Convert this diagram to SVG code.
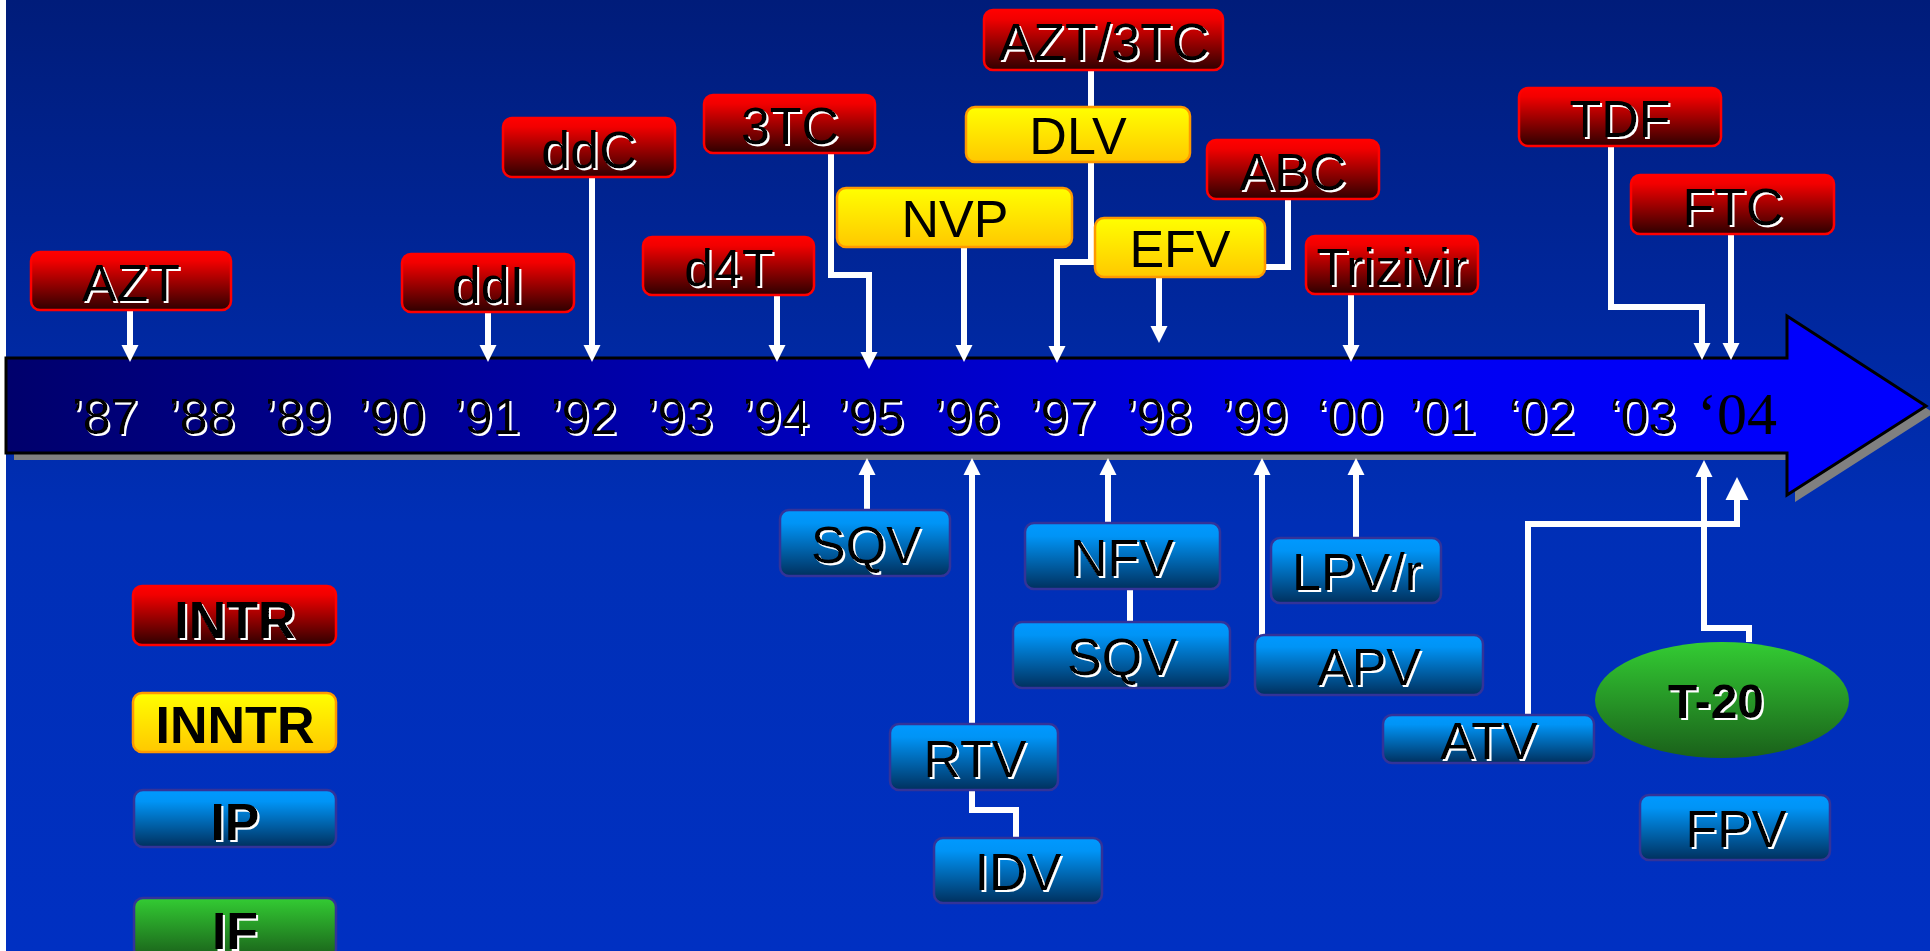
<svg xmlns="http://www.w3.org/2000/svg" width="1930" height="951" viewBox="0 0 1930 951">
<defs>
<linearGradient id="bg" x1="0" y1="0" x2="0" y2="1">
<stop offset="0" stop-color="#001c7a"/><stop offset="0.55" stop-color="#002fb6"/><stop offset="1" stop-color="#0030c2"/>
</linearGradient>
<linearGradient id="bar" gradientUnits="userSpaceOnUse" x1="6" y1="0" x2="1926" y2="0">
<stop offset="0" stop-color="#00006c"/><stop offset="0.7" stop-color="#0000f0"/><stop offset="1" stop-color="#0000ff"/>
</linearGradient>
<linearGradient id="gRed" x1="0" y1="0" x2="0" y2="1">
<stop offset="0" stop-color="#ff0000"/><stop offset="0.15" stop-color="#f20000"/><stop offset="1" stop-color="#2e0000"/>
</linearGradient>
<linearGradient id="gYel" x1="0" y1="0" x2="0" y2="1">
<stop offset="0" stop-color="#ffff00"/><stop offset="1" stop-color="#ffc800"/>
</linearGradient>
<linearGradient id="gBlue" x1="0" y1="0" x2="0" y2="1">
<stop offset="0" stop-color="#0099ff"/><stop offset="0.2" stop-color="#0094f6"/><stop offset="1" stop-color="#00305e"/>
</linearGradient>
<linearGradient id="gGreen" x1="0" y1="0" x2="0" y2="1">
<stop offset="0" stop-color="#33cc33"/><stop offset="1" stop-color="#1a601a"/>
</linearGradient>
<filter id="ws" x="-10%" y="-10%" width="125%" height="130%">
<feOffset in="SourceAlpha" dx="2" dy="2" result="o"/>
<feFlood flood-color="#ffffff"/>
<feComposite in2="o" operator="in" result="s"/>
<feMerge><feMergeNode in="s"/><feMergeNode in="SourceGraphic"/></feMerge>
</filter>
<marker id="ah" markerUnits="userSpaceOnUse" markerWidth="17" markerHeight="17" refX="5" refY="8.5" orient="auto" overflow="visible">
<path d="M0,0 L17,8.5 L0,17 z" fill="#ffffff"/>
</marker>
<marker id="ahL" markerUnits="userSpaceOnUse" markerWidth="23" markerHeight="23" refX="7" refY="11.5" orient="auto" overflow="visible">
<path d="M0,0 L23,11.5 L0,23 z" fill="#ffffff"/>
</marker>
</defs>
<style>
.red{fill:url(#gRed);stroke:#ff0000;stroke-width:2.5}
.yel{fill:url(#gYel);stroke:#ff9900;stroke-width:2.5}
.blu{fill:url(#gBlue);stroke:#333399;stroke-width:2.5}
.grn{fill:url(#gGreen);stroke:#333399;stroke-width:2.5}
.t{font-family:"Liberation Sans",Arial,sans-serif;font-size:52px;fill:#000;text-anchor:middle}
.sh{filter:url(#ws)}
.b{font-weight:bold}
.yr{font-family:"Liberation Sans",Arial,sans-serif;font-size:50px;fill:#000;text-anchor:middle;filter:url(#ws)}
.c{fill:none;stroke:#ffffff;stroke-width:6;stroke-linejoin:miter}
.ar{marker-end:url(#ah)}
.arL{marker-end:url(#ahL)}
</style>

<rect x="0" y="0" width="1930" height="951" fill="url(#bg)"/>
<rect x="0" y="0" width="6" height="951" fill="#ffffff"/>

<g id="timeline">
<path d="M6,358 H1787 V316 L1926,406 L1787,495 V453 H6 Z" fill="#808080" transform="translate(8,7)"/>
<path d="M6,358 H1787 V316 L1926,406 L1787,495 V453 H6 Z" fill="url(#bar)" stroke="#000000" stroke-width="3"/>
<text class="yr" x="105" y="434">’87</text>
<text class="yr" x="202" y="434">’88</text>
<text class="yr" x="298" y="434">’89</text>
<text class="yr" x="392" y="434">’90</text>
<text class="yr" x="487" y="434">’91</text>
<text class="yr" x="584" y="434">’92</text>
<text class="yr" x="680" y="434">’93</text>
<text class="yr" x="776" y="434">’94</text>
<text class="yr" x="871" y="434">’95</text>
<text class="yr" x="967" y="434">’96</text>
<text class="yr" x="1063" y="434">’97</text>
<text class="yr" x="1159" y="434">’98</text>
<text class="yr" x="1255" y="434">’99</text>
<text class="yr" x="1350" y="434">‘00</text>
<text class="yr" x="1443" y="434">’01</text>
<text class="yr" x="1542" y="434">‘02</text>
<text class="yr" x="1643" y="434">‘03</text>
<text x="1737" y="434" font-family="'Liberation Serif','Times New Roman',serif" font-size="60" fill="#000" text-anchor="middle">‘04</text>
</g>

<g id="connectors">
<path class="c ar" d="M130,310 V350"/>
<path class="c ar" d="M488,312 V350"/>
<path class="c ar" d="M592,177 V350"/>
<path class="c ar" d="M777,295 V350"/>
<path class="c ar" d="M831,153 V275 H869 V357"/>
<path class="c ar" d="M964,247 V350"/>
<path class="c ar" d="M1091,70 V262 H1057 V351"/>
<path class="c" d="M1288,199 V267 H1265"/>
<path class="c ar" d="M1159,277 V331"/>
<path class="c ar" d="M1351,294 V350"/>
<path class="c ar" d="M1611,146 V307 H1702 V348"/>
<path class="c ar" d="M1731,234 V348"/>
<path class="c ar" d="M867,510 V470"/>
<path class="c ar" d="M972,724 V470"/>
<path class="c" d="M972,790 V810 H1016 V838"/>
<path class="c ar" d="M1108,523 V470"/>
<path class="c" d="M1130,589 V622"/>
<path class="c ar" d="M1262,635 V470"/>
<path class="c ar" d="M1356,538 V470"/>
<path class="c arL" d="M1528,715 V524 H1737 V493"/>
<path class="c ar" d="M1749,642 V628 H1704 V472"/>
</g>

<g id="n-azt"><rect class="red" x="31" y="252" width="200" height="58" rx="9"/><text class="t sh" x="131" y="301">AZT</text></g>
<g id="n-ddi"><rect class="red" x="402" y="254" width="172" height="58" rx="9"/><text class="t sh" x="488" y="303">ddI</text></g>
<g id="n-ddc"><rect class="red" x="503" y="118" width="172" height="59" rx="9"/><text class="t sh" x="589" y="168">ddC</text></g>
<g id="n-3tc"><rect class="red" x="704" y="95" width="171" height="58" rx="9"/><text class="t sh" x="790" y="144">3TC</text></g>
<g id="n-d4t"><rect class="red" x="643" y="237" width="171" height="58" rx="9"/><text class="t sh" x="729" y="286">d4T</text></g>
<g id="n-azt3tc"><rect class="red" x="984" y="10" width="239" height="60" rx="9"/><text class="t sh" x="1104" y="60">AZT/3TC</text></g>
<g id="n-abc"><rect class="red" x="1207" y="140" width="172" height="59" rx="9"/><text class="t sh" x="1293" y="190">ABC</text></g>
<g id="n-trizivir"><rect class="red" x="1306" y="236" width="172" height="58" rx="9"/><text class="t sh" x="1392" y="285">Trizivir</text></g>
<g id="n-tdf"><rect class="red" x="1519" y="88" width="202" height="58" rx="9"/><text class="t sh" x="1620" y="137">TDF</text></g>
<g id="n-ftc"><rect class="red" x="1631" y="175" width="203" height="59" rx="9"/><text class="t sh" x="1733" y="225">FTC</text></g>

<g id="n-dlv"><rect class="yel" x="966" y="107" width="224" height="55" rx="9"/><text class="t" x="1078" y="154">DLV</text></g>
<g id="n-nvp"><rect class="yel" x="837" y="188" width="235" height="59" rx="9"/><text class="t" x="955" y="237">NVP</text></g>
<g id="n-efv"><rect class="yel" x="1095" y="218" width="170" height="59" rx="9"/><text class="t" x="1180" y="267">EFV</text></g>

<g id="n-sqv1"><rect class="blu" x="780" y="510" width="170" height="66" rx="9"/><text class="t sh" x="866" y="563">SQV</text></g>
<g id="n-nfv"><rect class="blu" x="1025" y="523" width="195" height="66" rx="9"/><text class="t sh" x="1122" y="576">NFV</text></g>
<g id="n-lpvr"><rect class="blu" x="1271" y="538" width="170" height="65" rx="9"/><text class="t sh" x="1357" y="590">LPV/r</text></g>
<g id="n-sqv2"><rect class="blu" x="1013" y="622" width="217" height="66" rx="9"/><text class="t sh" x="1122" y="675">SQV</text></g>
<g id="n-apv"><rect class="blu" x="1255" y="635" width="228" height="60" rx="9"/><text class="t sh" x="1369" y="685">APV</text></g>
<g id="n-rtv"><rect class="blu" x="890" y="724" width="168" height="66" rx="9"/><text class="t sh" x="975" y="777">RTV</text></g>
<g id="n-idv"><rect class="blu" x="934" y="838" width="168" height="65" rx="9"/><text class="t sh" x="1018" y="890">IDV</text></g>
<g id="n-atv"><rect class="blu" x="1383" y="715" width="211" height="48" rx="9"/><text class="t sh" x="1489" y="759">ATV</text></g>
<g id="n-fpv"><rect class="blu" x="1640" y="795" width="190" height="65" rx="9"/><text class="t sh" x="1736" y="847">FPV</text></g>

<g id="n-t20"><ellipse cx="1722" cy="700" rx="127" ry="58" fill="url(#gGreen)"/><text class="t sh b" x="1716" y="718" font-size="48" style="font-size:48px">T-20</text></g>

<g id="legend-intr"><rect class="red" x="133" y="586" width="203" height="59" rx="9"/><text class="t sh b" x="235" y="638">INTR</text></g>
<g id="legend-inntr"><rect class="yel" x="133" y="693" width="203" height="59" rx="9"/><text class="t b" x="235" y="743">INNTR</text></g>
<g id="legend-ip"><rect class="blu" x="134" y="790" width="202" height="57" rx="9"/><text class="t sh b" x="235" y="840">IP</text></g>
<g id="legend-if"><rect class="grn" x="134" y="898" width="202" height="60" rx="9"/><text class="t sh b" x="235" y="949">IF</text></g>
</svg>
